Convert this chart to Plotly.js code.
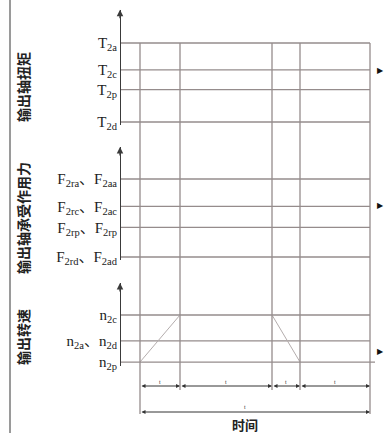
<!DOCTYPE html>
<html>
<head>
<meta charset="utf-8">
<script src="https://cdn.plot.ly/plotly-3.0.1.min.js"></script>
<style>html,body{margin:0;padding:0;background:#fff;}#chart{width:388px;height:433px;}</style>
</head>
<body>
<div id="chart"></div>
<script>
// ---- data (schematic levels) ----
const timeMarks = [0, 4, 13.2, 16, 23];          // boundaries of the time intervals
const axisTime = -2;                              // where the vertical value axes stand
const panelTitles = ['输出轴扭矩', '输出轴承受作用力', '输出转速'];
const torqueLabels = ['T<sub>2a</sub>', 'T<sub>2c</sub>', 'T<sub>2p</sub>', 'T<sub>2d</sub>'];
const torqueLevels = [100, 66, 41, 0];
const forceLabels = ['F<sub>2ra</sub>、F<sub>2aa</sub>', 'F<sub>2rc</sub>、F<sub>2ac</sub>', 'F<sub>2rp</sub>、F<sub>2rp</sub>', 'F<sub>2rd</sub>、F<sub>2ad</sub>'];
const forceLevels = [100, 65, 38, 0];
const speedLabels = ['n<sub>2c</sub>', 'n<sub>2a</sub>、n<sub>2d</sub>', 'n<sub>2p</sub>'];
const speedLevels = [100, 45, 0];
const speedRampTime = [timeMarks[0], timeMarks[1], null, timeMarks[2], timeMarks[3]];
const speedRampValue = [speedLevels[2], speedLevels[0], null, speedLevels[0], speedLevels[2]];
const intervalLabels = ['t', 't', 't', 't'];
const totalLabel = 't';
const xTitle = '时间';

// ---- styles / layout ----
const W = 388, H = 433;
const gridColor = '#958c8c';
const axisColor = '#3a3a3a';
const serif = "'Liberation Serif', 'DejaVu Serif', 'Noto Sans CJK SC', serif";
const cjk = "'Noto Sans CJK SC', sans-serif";
const xRange = [-14, 24.8];
const axPos = (axisTime - xRange[0]) / (xRange[1] - xRange[0]);

const yAxes = [
  {domain: [0.7109, 0.9774], range: [-4, 142]},
  {domain: [0.3993, 0.6605], range: [-4, 141]},
  {domain: [0.1552, 0.3464], range: [-8, 168]}
];
function paperY(ax, v) {
  return ax.domain[0] + (v - ax.range[0]) / (ax.range[1] - ax.range[0]) * (ax.domain[1] - ax.domain[0]);
}

const panels = [
  {levels: torqueLevels, labels: torqueLabels, yid: 'y'},
  {levels: forceLevels, labels: forceLabels, yid: 'y2'},
  {levels: speedLevels, labels: speedLabels, yid: 'y3'}
];

const traces = [];
panels.forEach((p, i) => {
  const xs = [], ys = [];
  p.levels.forEach((v, k) => {
    const isLastSpeed = (i === 2 && k === p.levels.length - 1);
    xs.push(axisTime, timeMarks[timeMarks.length - 1] + (isLastSpeed ? 0.5 : 0), null);
    ys.push(v, v, null);
  });
  traces.push({x: xs, y: ys, xaxis: 'x', yaxis: p.yid, mode: 'lines',
    line: {color: gridColor, width: 1.3}, hoverinfo: 'skip'});
});
traces.push({x: speedRampTime, y: speedRampValue, xaxis: 'x', yaxis: 'y3', mode: 'lines',
  line: {color: '#b4adad', width: 1}, hoverinfo: 'skip'});

const layout = {
  width: W, height: H,
  margin: {l: 0, r: 0, t: 0, b: 0},
  paper_bgcolor: '#ffffff', plot_bgcolor: 'rgba(0,0,0,0)',
  showlegend: false,
  xaxis: {domain: [0, 1], range: xRange, visible: false, fixedrange: true},
  shapes: [], annotations: []
};
const yKeys = ['yaxis', 'yaxis2', 'yaxis3'];
const titleCenters = [87, 218, 337];
panels.forEach((p, i) => {
  layout[yKeys[i]] = {
    domain: yAxes[i].domain, range: yAxes[i].range, anchor: 'free', position: axPos,
    showline: true, linecolor: axisColor, linewidth: 1.3,
    showgrid: false, zeroline: false, ticks: '',
    tickmode: 'array', tickvals: p.levels, ticktext: p.labels,
    tickfont: {family: serif, size: 15, color: '#222'}, fixedrange: true
  };
  // arrow head at the top of each value axis
  layout.annotations.push({x: axisTime, y: yAxes[i].range[1], xref: 'x', yref: p.yid,
    showarrow: true, ax: 0, ay: 10, arrowhead: 2, arrowsize: 1, arrowwidth: 1.3,
    arrowcolor: axisColor, text: ''});
  // rotated panel title
  layout.annotations.push({x: 23 / W, y: (H - titleCenters[i]) / H, xref: 'paper', yref: 'paper',
    xanchor: 'center', yanchor: 'middle',
    text: panelTitles[i], textangle: -90, showarrow: false,
    font: {family: cjk, size: 14, color: '#222', weight: 700}});
});

// vertical boundary lines
const topY = paperY(yAxes[0], torqueLevels[0]);
const dimY1 = (H - 386) / H, dimY2 = (H - 412) / H;
timeMarks.forEach((t, k) => {
  const isEnd = (k === 0 || k === timeMarks.length - 1);
  layout.shapes.push({type: 'line', xref: 'x', yref: 'paper', x0: t, x1: t,
    y0: isEnd ? (H - 414) / H : (H - 390) / H, y1: topY,
    line: {color: gridColor, width: 1.3}});
});
// interval dimension arrows
for (let k = 0; k < timeMarks.length - 1; k++) {
  layout.annotations.push({x: timeMarks[k + 1], y: dimY1, xref: 'x', yref: 'paper',
    ax: timeMarks[k], axref: 'x', ay: 0, ayref: 'pixel', showarrow: true,
    arrowside: 'end+start', arrowhead: 2, arrowsize: 0.8, arrowwidth: 1, arrowcolor: '#333', text: ''});
  layout.annotations.push({x: (timeMarks[k] + timeMarks[k + 1]) / 2, y: (H - 382) / H, xref: 'x', yref: 'paper',
    xanchor: 'center', yanchor: 'middle',
    text: intervalLabels[k], showarrow: false, font: {family: serif, size: 6, color: '#333'}});
}
layout.annotations.push({x: timeMarks[timeMarks.length - 1], y: dimY2, xref: 'x', yref: 'paper',
  ax: timeMarks[0], axref: 'x', ay: 0, ayref: 'pixel', showarrow: true,
  arrowside: 'end+start', arrowhead: 2, arrowsize: 0.8, arrowwidth: 1, arrowcolor: '#333', text: ''});
layout.annotations.push({x: 10.5, y: (H - 407) / H, xref: 'x', yref: 'paper',
  xanchor: 'center', yanchor: 'middle',
  text: totalLabel, showarrow: false, font: {family: serif, size: 6, color: '#333'}});
layout.annotations.push({x: 10.5, y: (H - 424) / H, xref: 'x', yref: 'paper',
  xanchor: 'center', yanchor: 'middle',
  text: xTitle, showarrow: false, font: {family: cjk, size: 13, color: '#222', weight: 700}});

// right-hand pointers
[(H - 70) / H, (H - 206) / H, (H - 351) / H].forEach(py => {
  layout.annotations.push({x: 380 / W, y: py, xref: 'paper', yref: 'paper', text: '▶',
    xanchor: 'center', yanchor: 'middle',
    showarrow: false, font: {family: 'DejaVu Sans', size: 8, color: '#111'}});
});
// left frame bar
layout.shapes.push({type: 'line', xref: 'paper', yref: 'paper', x0: 10 / W, x1: 10 / W, y0: 0, y1: 1,
  line: {color: '#9a9a9a', width: 2}});

Plotly.newPlot('chart', traces, layout, {staticPlot: true, displayModeBar: false});
</script>
</body>
</html>
